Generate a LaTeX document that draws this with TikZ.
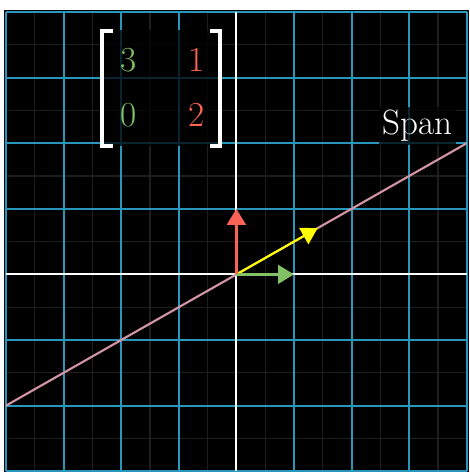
\documentclass[tikz,border=0pt]{standalone}
\usepackage{tikz}
\usetikzlibrary{arrows.meta,positioning}

\definecolor{gridblue}{RGB}{41,150,190}
\definecolor{finegray}{RGB}{30,30,30}
\definecolor{spanpink}{RGB}{212,150,165}
\definecolor{vecred}{RGB}{252,98,85}
\definecolor{vecgreen}{RGB}{131,193,103}
\definecolor{vecyellow}{RGB}{255,255,0}

\begin{document}
\begin{tikzpicture}[x=1.152cm, y=1.312cm,
        minor/.style={finegray, line width=0.7pt},
        major/.style={gridblue, line width=1.2pt},
        axis/.style={white, line width=1.2pt},
        vec/.style={-{Triangle[length=0.32cm, width=0.37cm]}, line width=1.8pt},
        spanline/.style={spanpink, line width=1.2pt},
        entry/.style={font=\fontsize{20}{24}\selectfont, inner sep=0pt},
        bracket/.style={white, line width=2.2pt, line cap=butt},
        shade/.style={fill=black, fill opacity=0.75}]
        \useasboundingbox[fill=white] (-4.104,-3.012) rectangle (4.038,4.183);
        \fill[black] (-4.035,-3.012) rectangle (4.038,4.03);
        % grid
        \foreach \x in {-3.5,-2.5,...,3.5} \draw[minor] (\x,-3) -- (\x,4);
        \foreach \y in {-2.5,-1.5,...,3.5} \draw[minor] (-4,\y) -- (4,\y);
        \foreach \x in {-4,...,4} \draw[major] (\x,-3) -- (\x,4);
        \foreach \y in {-3,...,4} \draw[major] (-4,\y) -- (4,\y);
        \draw[axis] (-4,0) -- (4,0);
        \draw[axis] (0,-3) -- (0,4);
        % span of the eigenvector
        \coordinate (s1) at (-4,-2);
        \coordinate (s2) at (4,2);
        \draw[spanline] (s1) -- (s2);
        % basis vectors
        \coordinate (o) at (0,0);
        \coordinate (i) at (1,0);
        \coordinate (j) at (0,1);
        \coordinate (v) at (1.41,0.705);
        \draw[vec, vecyellow, line width=1.2pt] (o) -- (v);
        \draw[vec, vecgreen] (o) -- (i);
        \draw[vec, vecred] (o) -- (j);
        % matrix
        \fill[shade] (-2.37,1.95) rectangle (-0.25,3.73);
        \node[entry, text=vecgreen] (a11) at (-1.88,3.27) {3};
        \node[entry, text=vecred] (a12) at (-0.70,3.27) {1};
        \node[entry, text=vecgreen] (a21) at (-1.88,2.43) {0};
        \node[entry, text=vecred] (a22) at (-0.70,2.43) {2};
        \draw[bracket] (-2.14,3.715) -- (-2.335,3.715) -- (-2.335,1.96) -- (-2.14,1.96);
        \draw[bracket] (-0.46,3.715) -- (-0.285,3.715) -- (-0.285,1.96) -- (-0.46,1.96);
        % label
        \node[shade, text=white, text opacity=1, anchor=base, inner sep=2pt,
              font=\fontsize{20}{24}\selectfont] (span) at (3.15,2.125) {Span};
      \end{tikzpicture}
\end{document}
